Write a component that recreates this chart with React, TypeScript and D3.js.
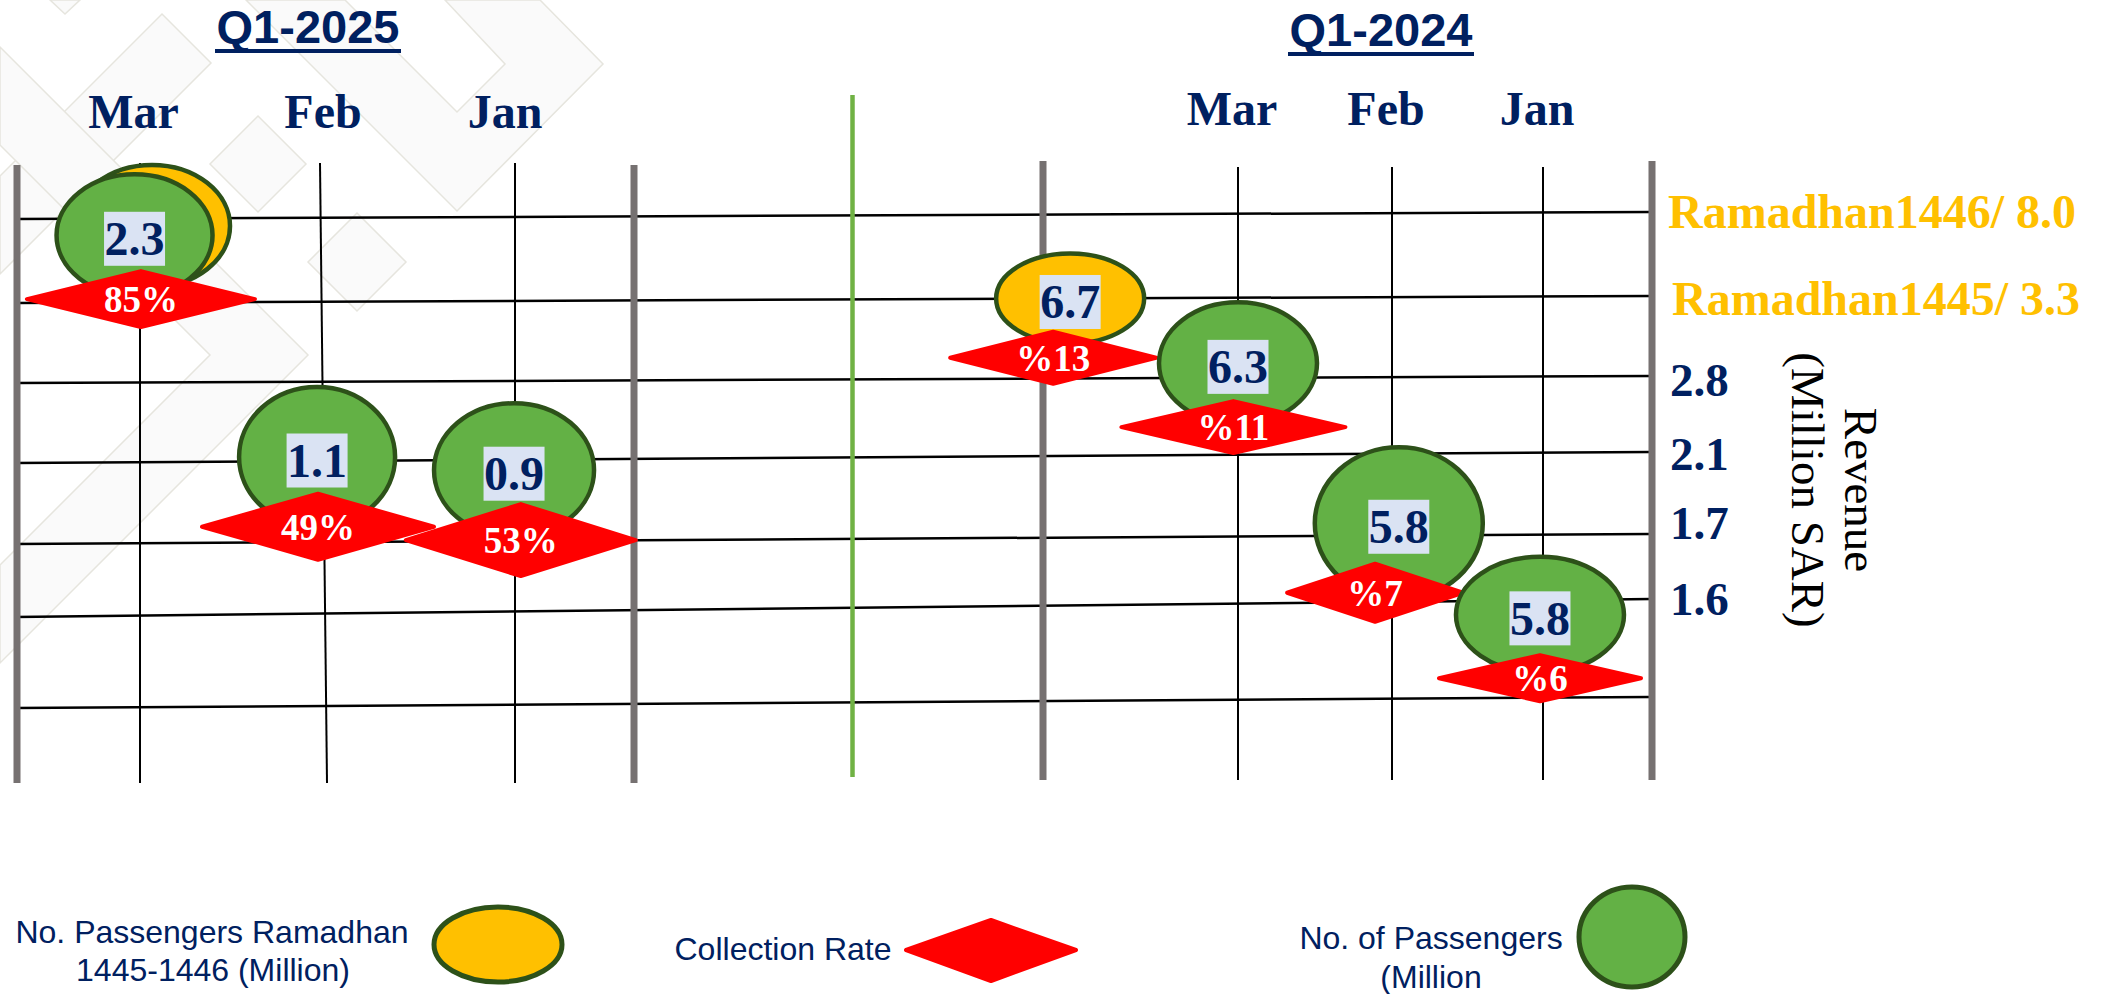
import React from "react";
import * as d3 from "d3";

// ---- data ----
const quarters = ["Q1-2025", "Q1-2024"];
const months = ["Mar", "Feb", "Jan"];
const revenueLabels = ["Ramadhan1446/ 8.0", "Ramadhan1445/ 3.3", "2.8", "2.1", "1.7", "1.6", ""];
const ramadhanLabelRows = [0, 1];
const passengers2025 = [2.3, 1.1, 0.9];
const collection2025 = [85, 49, 53];
const passengers2024 = [6.3, 5.8, 5.8];
const collection2024 = [11, 7, 6];
const ramadhanPassengers = [null, 6.7]; // 1446 (hidden behind Mar 2025), 1445
const ramadhanCollection = [null, 13];
const legendItems = [
  { lines: ["No. Passengers Ramadhan", "1445-1446 (Million)"], symbol: "ramadhan" },
  { lines: ["Collection Rate"], symbol: "rate" },
  { lines: ["No. of Passengers", "(Million"], symbol: "passengers" },
];

// ---- look ----
const W = 2108;
const H = 994;
const NAVY = "#002060";
const GOLD = "#FFC000";
const GREEN = "#63B145";
const DARKGREEN = "#2D5119";
const RED = "#FF0000";
const FRAME = "#767171";
const SERIF = "'Liberation Serif','Times New Roman',Times,serif";
const SANS = "'Liberation Sans',Arial,Helvetica,sans-serif";

// where things sit on the slide (column / row units)
const panelLayout = {
  "Q1-2025": {
    cols: [140, 322, 515], frame: [17, 634], frameTop: 165, colTop: 163, bottom: 783,
    titleX: 308, titleY: 43, underlineY: 51, monthY: 128, monthDx: [-6.5, 1, -10],
  },
  "Q1-2024": {
    cols: [1238, 1392, 1543], frame: [1043, 1652], frameTop: 161, colTop: 167, bottom: 780,
    titleX: 1381, titleY: 46, underlineY: 54, monthY: 125, monthDx: [-6, -6, -6],
  },
};
const placement = {
  "Q1-2025": {
    ramadhan: { bubble: { col: 0.066, row: 0.09, rx: 78, ry: 61 }, diamond: null },
    months: [
      { bubble: { col: -0.03, row: 0.2, rx: 78, ry: 61 }, diamond: { col: 0.005, row: 0.96, hw: 116, hh: 29 } },
      { bubble: { col: 0.973, row: 2.95, rx: 78, ry: 70 }, diamond: { col: 0.978, row: 3.81, hw: 118, hh: 34 } },
      { bubble: { col: 1.995, row: 3.13, rx: 80, ry: 67 }, diamond: { col: 2.03, row: 3.99, hw: 117, hh: 37 } },
    ],
  },
  "Q1-2024": {
    ramadhan: { bubble: { col: -1.09, row: 1.0, rx: 74, ry: 45 }, diamond: { col: -1.2, row: 1.74, hw: 105, hh: 27 } },
    months: [
      { bubble: { col: 0, row: 1.82, rx: 79, ry: 61 }, diamond: { col: -0.03, row: 2.64, hw: 114, hh: 27 } },
      { bubble: { col: 1.045, row: 3.85, rx: 84, ry: 76 }, diamond: { col: 0.89, row: 4.86, hw: 90, hh: 30 } },
      { bubble: { col: 1.98, row: 5.15, rx: 84, ry: 58 }, diamond: { col: 1.98, row: 5.8, hw: 103, hh: 24 } },
    ],
  },
};
const labelDy = [16, 19, 20, 18, 5, 16];

// faint background chevrons
const bgShapes = [
  "M0,176 L162,14 L211,63 L0,274 Z",
  "M246,0 L457,211 L603,64 L540,0 L445,0 L505,64 L457,112 L345,0 Z",
  "M0,47 L308,355 L0,663 L0,565 L210,355 L0,145 Z",
  "M258,116 L306,164 L258,212 L210,164 Z",
  "M357,213 L406,262 L357,311 L308,262 Z",
  "M50,0 L65,14 L80,0 Z",
];

const Bubble = ({ cx, cy, rx, ry, fill, value }) => (
  <g>
    <ellipse cx={cx} cy={cy} rx={rx} ry={ry} fill={fill} stroke={DARKGREEN} strokeWidth={4.5} />
    {value != null && (
      <>
        <rect x={cx - 30.5} y={cy + 3.5 - 27} width={61} height={54} fill="#DAE3F3" />
        <text x={cx} y={cy + 20} textAnchor="middle" fontFamily={SERIF} fontWeight="bold" fontSize={48} fill={NAVY}>
          {d3.format(".1f")(value)}
        </text>
      </>
    )}
  </g>
);

const Diamond = ({ cx, cy, hw, hh, label }) => (
  <g>
    <path
      d={`M${cx - hw + 2},${cy} L${cx},${cy - hh + 1} L${cx + hw - 2},${cy} L${cx},${cy + hh - 1} Z`}
      fill={RED}
      stroke={RED}
      strokeWidth={4}
      strokeLinejoin="round"
    />
    <text x={cx} y={cy + 13} textAnchor="middle" fontFamily={SERIF} fontWeight="bold" fontSize={37} fill="#fff">
      {label}
    </text>
  </g>
);

export default function App() {
  const rows = d3.range(revenueLabels.length);
  const yLeft = d3.scaleLinear().domain(rows).range([219, 303, 383, 463, 544, 617, 708]);
  const yRight = d3.scaleLinear().domain(rows).range([212, 296, 376, 452, 534, 599, 697]);
  const gx0 = 15;
  const gx1 = 1651;
  const y = (row, x) => {
    const t = (x - gx0) / (gx1 - gx0);
    return yLeft(row) * (1 - t) + yRight(row) * t;
  };

  const series = {
    "Q1-2025": {
      passengers: passengers2025,
      rates: collection2025,
      fmt: (d) => `${d}%`,
      ramadhan: { value: ramadhanPassengers[0], rate: ramadhanCollection[0] },
    },
    "Q1-2024": {
      passengers: passengers2024,
      rates: collection2024,
      fmt: (d) => `%${d}`,
      ramadhan: { value: ramadhanPassengers[1], rate: ramadhanCollection[1] },
    },
  };

  const panels = quarters.map((q) => {
    const lay = panelLayout[q];
    const x = d3.scaleLinear().domain([0, 1, 2]).range(lay.cols);
    const pl = placement[q];
    const s = series[q];
    const marks = [];
    // ramadhan bubble first, then months in order (each bubble followed by its diamond)
    const rb = pl.ramadhan.bubble;
    const rbx = x(rb.col);
    marks.push(
      <Bubble key={q + "-rb"} cx={rbx} cy={y(rb.row, rbx)} rx={rb.rx} ry={rb.ry} fill={GOLD} value={s.ramadhan.value} />
    );
    if (pl.ramadhan.diamond && s.ramadhan.rate != null) {
      const rd = pl.ramadhan.diamond;
      const rdx = x(rd.col);
      marks.push(
        <Diamond key={q + "-rd"} cx={rdx} cy={y(rd.row, rdx)} hw={rd.hw} hh={rd.hh} label={s.fmt(s.ramadhan.rate)} />
      );
    }
    months.forEach((m, i) => {
      const b = pl.months[i].bubble;
      const bx = x(b.col);
      marks.push(
        <Bubble key={q + m + "-b"} cx={bx} cy={y(b.row, bx)} rx={b.rx} ry={b.ry} fill={GREEN} value={s.passengers[i]} />
      );
      const dm = pl.months[i].diamond;
      const dx = x(dm.col);
      marks.push(
        <Diamond key={q + m + "-d"} cx={dx} cy={y(dm.row, dx)} hw={dm.hw} hh={dm.hh} label={s.fmt(s.rates[i])} />
      );
    });
    return { q, lay, x, marks };
  });

  return (
    <svg width={W} height={H} viewBox={`0 0 ${W} ${H}`} style={{ display: "block", position: "absolute", left: 0, top: 0 }}>
      <rect width={W} height={H} fill="#fff" />
      <g fill="#FAFAFA" stroke="#E6E5DE" strokeWidth={1.5}>
        {bgShapes.map((d, i) => (
          <path key={i} d={d} />
        ))}
      </g>

      {/* titles + month headers */}
      {panels.map(({ q, lay, x }) => (
        <g key={q + "-head"}>
          <text x={lay.titleX} y={lay.titleY} textAnchor="middle" fontFamily={SANS} fontWeight="bold" fontSize={47} fill={NAVY}>
            {q}
          </text>
          <rect x={lay.titleX - 93} y={lay.underlineY - 2} width={186} height={4} fill={NAVY} />
          {months.map((m, i) => (
            <text
              key={m}
              x={x(i) + lay.monthDx[i]}
              y={lay.monthY}
              textAnchor="middle"
              fontFamily={SERIF}
              fontWeight="bold"
              fontSize={48}
              fill={NAVY}
            >
              {m}
            </text>
          ))}
        </g>
      ))}

      {/* horizontal grid */}
      <g stroke="#000" strokeWidth={2.5}>
        {rows.map((r) => (
          <line key={r} x1={gx0} y1={yLeft(r)} x2={gx1} y2={yRight(r)} />
        ))}
      </g>

      {/* month columns and frames */}
      {panels.map(({ q, lay, x }) => (
        <g key={q + "-cols"}>
          {months.map((m, i) => (
            <line
              key={m}
              x1={x(i) - (i === 1 && q === "Q1-2025" ? 2 : 0)}
              y1={lay.colTop}
              x2={x(i) + (i === 1 && q === "Q1-2025" ? 5 : 0)}
              y2={lay.bottom}
              stroke="#000"
              strokeWidth={2}
            />
          ))}
          {lay.frame.map((fx, k) => (
            <rect key={k} x={fx - 3.5} y={lay.frameTop} width={7} height={lay.bottom - lay.frameTop} fill={FRAME} />
          ))}
        </g>
      ))}

      <line x1={852.5} y1={95} x2={852.5} y2={777} stroke="#70B244" strokeWidth={4.5} />

      {panels.map(({ q, marks }) => (
        <g key={q + "-marks"}>{marks}</g>
      ))}

      {/* revenue labels */}
      {revenueLabels.map((lbl, r) =>
        lbl ? (
          <text
            key={r}
            x={ramadhanLabelRows.includes(r) ? 1668 + r * 4 : 1670}
            y={yRight(r) + labelDy[r]}
            fontFamily={SERIF}
            fontWeight="bold"
            fontSize={ramadhanLabelRows.includes(r) ? 48 : 47}
            fill={ramadhanLabelRows.includes(r) ? GOLD : NAVY}
          >
            {lbl}
          </text>
        ) : null
      )}

      <g fontFamily={SERIF} fontSize={47} fill="#000" textAnchor="middle">
        <text transform="translate(1845,490) rotate(90)">Revenue</text>
        <text transform="translate(1792,490) rotate(90)">(Million SAR)</text>
      </g>

      {/* legend */}
      <g fontFamily={SANS} fontSize={32} fill={NAVY} textAnchor="middle">
        {legendItems.map((it) => {
          if (it.symbol === "ramadhan")
            return (
              <g key={it.symbol}>
                <text x={212} y={943}>{it.lines[0]}</text>
                <text x={213} y={981}>{it.lines[1]}</text>
                <ellipse cx={498} cy={944.5} rx={64} ry={37.5} fill={GOLD} stroke={DARKGREEN} strokeWidth={5} />
              </g>
            );
          if (it.symbol === "rate")
            return (
              <g key={it.symbol}>
                <text x={783} y={960}>{it.lines[0]}</text>
                <path d="M906,950 L991,920 L1076,950 L991,981 Z" fill={RED} stroke={RED} strokeWidth={4} strokeLinejoin="round" />
              </g>
            );
          return (
            <g key={it.symbol}>
              <text x={1431} y={949}>{it.lines[0]}</text>
              <text x={1431} y={988}>{it.lines[1]}</text>
              <ellipse cx={1632} cy={937} rx={53} ry={50} fill={GREEN} stroke={DARKGREEN} strokeWidth={5} />
            </g>
          );
        })}
      </g>
    </svg>
  );
}
